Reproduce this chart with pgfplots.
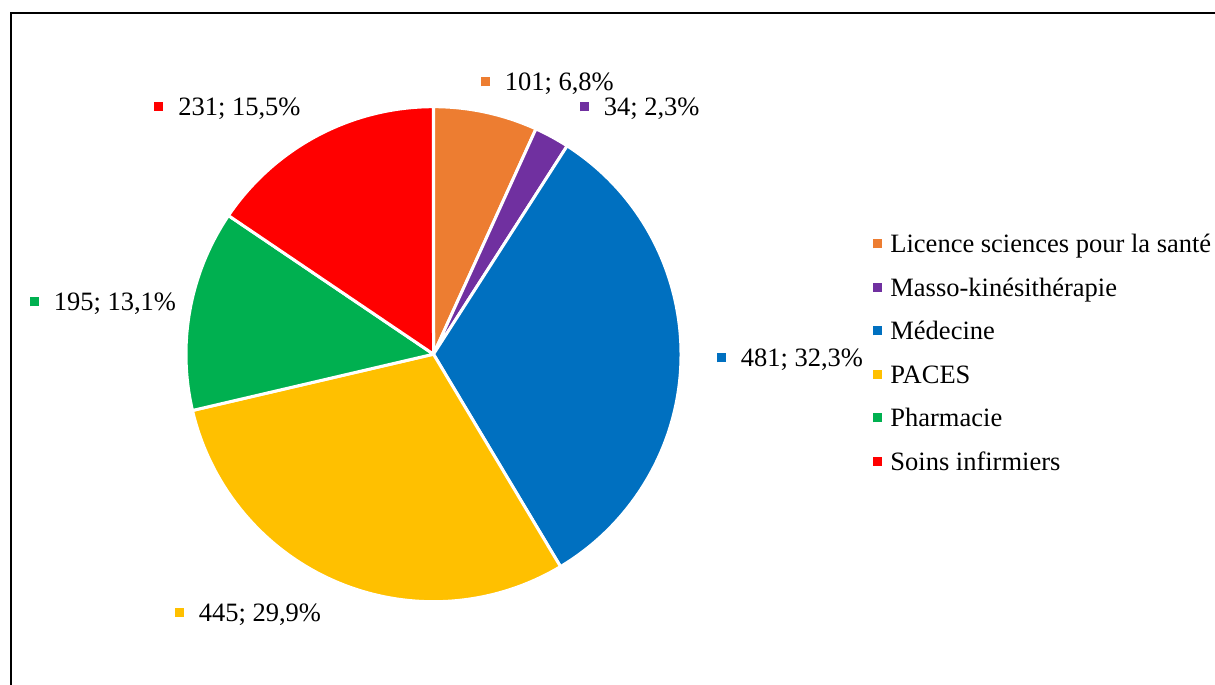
\documentclass[border=0pt]{standalone}
\usepackage{pgfplots}
\usepackage{pgfplotstable}
\pgfplotsset{compat=1.18}
\usepackage{fontspec}
\setmainfont{Liberation Serif}
\definecolor{cLic}{HTML}{ED7D31}
\definecolor{cMas}{HTML}{7030A0}
\definecolor{cMed}{HTML}{0070C0}
\definecolor{cPac}{HTML}{FFC000}
\definecolor{cPha}{HTML}{00B050}
\definecolor{cSoi}{HTML}{FF0000}
\pgfplotstableread{
name value col
Licence 101 cLic
Masso 34 cMas
Medecine 481 cMed
PACES 445 cPac
Pharmacie 195 cPha
Soins 231 cSoi
}\piedata
\newcommand{\sq}[1]{\raisebox{2.15pt}{\textcolor{#1}{\rule{4.5pt}{4.5pt}}}}
\tikzset{lbl/.style={anchor=base west, inner sep=0pt, font=\fontsize{13.25}{16}\selectfont}}
\begin{document}
\begin{tikzpicture}
\begin{axis}[
  scale only axis, width=607.5pt, height=342.5pt,
  xmin=0, xmax=1215, ymin=0, ymax=685,
  hide axis, clip=false,
]
\coordinate (bl) at (axis cs:0,0);
\coordinate (tr) at (axis cs:1215,685);
% total
\pgfplotstablegetrowsof{\piedata}
\pgfmathtruncatemacro\pierows{\pgfplotsretval-1}
\def\pietot{0}
\pgfplotsforeachungrouped \i in {0,...,\pierows}{%
  \pgfplotstablegetelem{\i}{value}\of\piedata
  \pgfmathsetmacro\pietot{\pietot+\pgfplotsretval}%
}
\def\piestart{90}
\pgfplotsforeachungrouped \i in {0,...,\pierows}{%
  \pgfplotstablegetelem{\i}{value}\of\piedata
  \let\pieval\pgfplotsretval
  \pgfplotstablegetelem{\i}{col}\of\piedata
  \let\piecol\pgfplotsretval
  \pgfmathsetmacro\pieend{\piestart-\pieval/\pietot*360}%
  \edef\pietemp{\noexpand\fill[\piecol, draw=white, line width=1.5pt, line join=round]
    (axis cs:433.5,330.8) -- ++(\piestart:123.75pt)
    arc[start angle=\piestart, end angle=\pieend, radius=123.75pt] -- cycle;}%
  \pietemp
  \let\piestart\pieend
}
% data labels (x = left of square, y = 685 - center - 8.8)
\node[lbl] at (axis cs:480.5,594.2) {\sq{cLic}\hspace{7.5pt}101; 6,8\%};
\node[lbl] at (axis cs:579.5,569.2) {\sq{cMas}\hspace{7.5pt}34; 2,3\%};
\node[lbl] at (axis cs:716.5,318.2) {\sq{cMed}\hspace{7.5pt}481; 32,3\%};
\node[lbl] at (axis cs:174.5,63.7) {\sq{cPac}\hspace{7.5pt}445; 29,9\%};
\node[lbl] at (axis cs:29.5,374.2) {\sq{cPha}\hspace{7.5pt}195; 13,1\%};
\node[lbl] at (axis cs:154,569.7) {\sq{cSoi}\hspace{7.5pt}231; 15,5\%};
% legend
\node[lbl] at (axis cs:873,432.2) {\sq{cLic}\hspace{4pt}Licence sciences pour la santé};
\node[lbl] at (axis cs:873,388.7) {\sq{cMas}\hspace{4pt}Masso-kinésithérapie};
\node[lbl] at (axis cs:873,345.2) {\sq{cMed}\hspace{4pt}Médecine};
\node[lbl] at (axis cs:873,301.7) {\sq{cPac}\hspace{4pt}PACES};
\node[lbl] at (axis cs:873,258.2) {\sq{cPha}\hspace{4pt}Pharmacie};
\node[lbl] at (axis cs:873,214.7) {\sq{cSoi}\hspace{4pt}Soins infirmiers};
% frame
\draw[line width=1pt] (axis cs:11,0) -- (axis cs:11,671.5) -- (axis cs:1215,671.5);
\end{axis}
\pgfresetboundingbox
\path[use as bounding box] (bl) rectangle (tr);
\end{tikzpicture}
\end{document}
